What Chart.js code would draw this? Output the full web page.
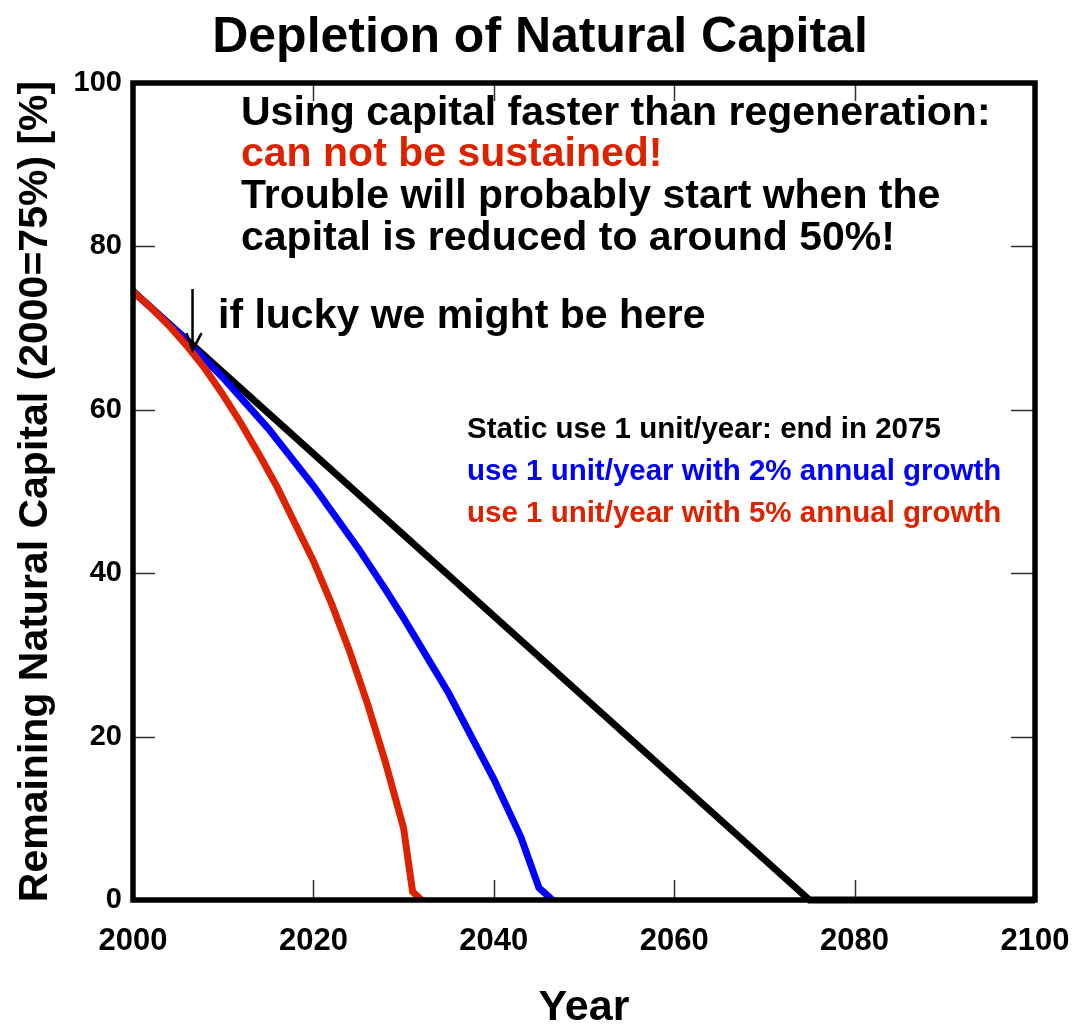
<!DOCTYPE html>
<html>
<head>
<meta charset="utf-8">
<script src="https://cdn.jsdelivr.net/npm/chart.js@4.4.1/dist/chart.umd.min.js"></script>
<style>
  html, body { margin: 0; padding: 0; background: #fff; }
  #wrap { width: 1072px; height: 1024px; }
</style>
</head>
<body>
<div id="wrap"><canvas id="chart" width="1072" height="1024"></canvas></div>
<script>
// Depletion of natural capital
const staticYears = [2000, 2075, 2100];
const staticValues = [74.5, 0, 0];

const growth2Years = [2000, 2005, 2010, 2015, 2020, 2025, 2028, 2030, 2033, 2035, 2038, 2040, 2043, 2045, 2046, 2046.5];
const growth2Values = [74.5, 69.5, 63.9, 57.7, 50.7, 43, 38, 34.5, 29, 25.3, 19, 14.8, 7.7, 1.5, 0.5, 0];

const growth5Years = [2000, 2002, 2004, 2006, 2008, 2010, 2012, 2014, 2016, 2018, 2020, 2022, 2024, 2026, 2028, 2030, 2031, 2032];
const growth5Values = [74.5, 72.5, 70.3, 67.8, 65, 61.8, 58.3, 54.5, 50.5, 46, 41.5, 36.3, 30.5, 24, 16.8, 8.8, 1, 0];

const xTicks = [2000, 2020, 2040, 2060, 2080, 2100];
const yTicks = [0, 20, 40, 60, 80, 100];

const FONT = "'Liberation Sans', Arial, Helvetica, sans-serif";
const RED = '#dd2200';
const BLUE = '#0000ff';

function toPoints(xs, ys) {
    return xs.map((x, i) => ({ x: x, y: ys[i] }));
}

// title, frame, inward ticks, arrow and text notes
const decorations = {
    id: 'decorations',
    beforeDatasetsDraw(chart) {
        const ctx = chart.ctx;
        const a = chart.chartArea;
        const xs = chart.scales.x;
        const ys = chart.scales.y;
        ctx.save();
        ctx.fillStyle = '#000';
        ctx.textAlign = 'center';
        ctx.textBaseline = 'alphabetic';
        ctx.font = 'bold 50px ' + FONT;
        ctx.fillText('Depletion of Natural Capital', 540, 52);

        ctx.strokeStyle = '#333';
        ctx.lineWidth = 1.5;
        ctx.beginPath();
        xTicks.forEach(v => {
            const px = Math.round(xs.getPixelForValue(v)) + 0.5;
            ctx.moveTo(px, a.bottom); ctx.lineTo(px, a.bottom - 20);
            ctx.moveTo(px, a.top); ctx.lineTo(px, a.top + 18);
        });
        yTicks.forEach(v => {
            const py = Math.round(ys.getPixelForValue(v)) + 0.5;
            ctx.moveTo(a.left, py); ctx.lineTo(a.left + 22, py);
            ctx.moveTo(a.right, py); ctx.lineTo(a.right - 24, py);
        });
        ctx.stroke();
        ctx.restore();
    },
    afterDatasetsDraw(chart) {
        const ctx = chart.ctx;
        const a = chart.chartArea;
        const xs = chart.scales.x;
        const ys = chart.scales.y;
        ctx.save();
        ctx.strokeStyle = '#000';
        ctx.lineWidth = 5.5;
        ctx.strokeRect(a.left, a.top, a.right - a.left, a.bottom - a.top);

        // arrow pointing at the "we might be here" spot
        const ax = xs.getPixelForValue(2006.6);
        const ay0 = ys.getPixelForValue(74.8);
        const ay1 = ys.getPixelForValue(67.3);
        ctx.lineWidth = 2.5;
        ctx.beginPath();
        ctx.moveTo(ax, ay0); ctx.lineTo(ax, ay1);
        ctx.moveTo(ax - 6, ay1 - 17); ctx.lineTo(ax, ay1); ctx.lineTo(ax + 9, ay1 - 17);
        ctx.stroke();

        ctx.textBaseline = 'alphabetic';
        ctx.textAlign = 'left';
        ctx.font = 'bold 41px ' + FONT;
        ctx.fillStyle = '#000';
        ctx.fillText('Using capital faster than regeneration:', 241, 125);
        ctx.fillStyle = RED;
        ctx.fillText('can not be sustained!', 241, 166);
        ctx.fillStyle = '#000';
        ctx.fillText('Trouble will probably start when the', 241, 208);
        ctx.fillText('capital is reduced to around 50%!', 241, 250);
        ctx.fillText('if lucky we might be here', 218, 328);

        ctx.font = 'bold 29.5px ' + FONT;
        ctx.fillStyle = '#000';
        ctx.fillText('Static use 1 unit/year: end in 2075', 467, 438);
        ctx.fillStyle = BLUE;
        ctx.fillText('use 1 unit/year with 2% annual growth', 467, 480);
        ctx.fillStyle = RED;
        ctx.fillText('use 1 unit/year with 5% annual growth', 467, 522);
        ctx.restore();
    }
};

new Chart(document.getElementById('chart'), {
    type: 'scatter',
    data: {
        datasets: [
            {
                label: '5% growth',
                data: toPoints(growth5Years, growth5Values),
                borderColor: RED,
                showLine: true,
                borderWidth: 7,
                pointRadius: 0,
                tension: 0,
                clip: false
            },
            {
                label: '2% growth',
                data: toPoints(growth2Years, growth2Values),
                borderColor: BLUE,
                showLine: true,
                borderWidth: 7,
                pointRadius: 0,
                tension: 0,
                clip: false
            },
            {
                label: 'Static use',
                data: toPoints(staticYears, staticValues),
                borderColor: '#000',
                showLine: true,
                borderWidth: 7,
                pointRadius: 0,
                tension: 0,
                clip: false
            }
        ]
    },
    options: {
        responsive: false,
        animation: false,
        layout: { padding: { left: 0, right: 37, top: 83, bottom: 0 } },
        plugins: {
            legend: { display: false },
            tooltip: { enabled: false },
            title: { display: false }
        },
        scales: {
            x: {
                type: 'linear',
                min: 2000,
                max: 2100,
                afterFit: s => { s.height = 124; s.paddingLeft = 0; s.paddingRight = 0; },
                afterBuildTicks: s => { s.ticks = xTicks.map(v => ({ value: v })); },
                grid: { display: false, drawTicks: false },
                border: { display: false },
                ticks: {
                    color: '#000',
                    padding: 23,
                    maxRotation: 0,
                    font: { family: FONT, size: 31, weight: 'bold' },
                    callback: v => String(v)
                },
                title: {
                    display: true,
                    text: 'Year',
                    color: '#000',
                    font: { family: FONT, size: 43, weight: 'bold', lineHeight: 0.72 },
                    padding: { top: 0, bottom: 0 }
                }
            },
            y: {
                type: 'linear',
                min: 0,
                max: 100,
                afterFit: s => { s.width = 133; s.paddingTop = 0; s.paddingBottom = 0; },
                afterBuildTicks: s => { s.ticks = yTicks.map(v => ({ value: v })); },
                grid: { display: false, drawTicks: false },
                border: { display: false },
                ticks: {
                    color: '#000',
                    padding: 11,
                    font: { family: FONT, size: 29, weight: 'bold' }
                },
                title: {
                    display: true,
                    text: 'Remaining Natural Capital (2000=75%) [%]',
                    color: '#000',
                    font: { family: FONT, size: 41, weight: 'bold', lineHeight: 1.2 },
                    padding: { top: 11, bottom: 0 }
                }
            }
        }
    },
    plugins: [decorations]
});
</script>
</body>
</html>
